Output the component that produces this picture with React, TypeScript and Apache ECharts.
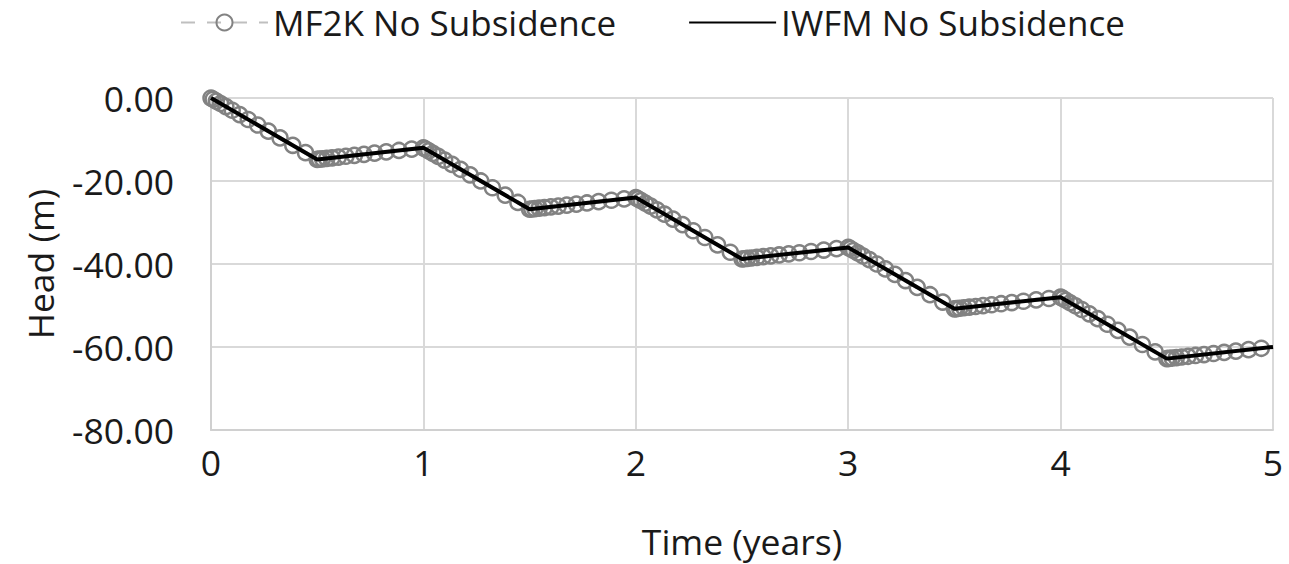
import React, { useEffect, useRef } from "react";
import * as echarts from "echarts";

const xTicks = [0, 1, 2, 3, 4, 5];
const yTicks = [0, -20, -40, -60, -80];

// IWFM No Subsidence (stress period end points)
const iwfmTime = [0, 0.5, 1, 1.5, 2, 2.5, 3, 3.5, 4, 4.5, 5];
const iwfmHead = [0, -14.8, -12, -26.8, -24, -38.8, -36, -50.8, -48, -62.8, -60];

// MF2K No Subsidence (time steps)
const mf2kTime = [
  0, 0.01, 0.025, 0.045, 0.07, 0.1, 0.135, 0.175, 0.22, 0.27, 0.325, 0.385, 0.445,
  0.5, 0.51, 0.525, 0.545, 0.57, 0.6, 0.635, 0.675, 0.72, 0.77, 0.825, 0.885, 0.945,
  1, 1.01, 1.025, 1.045, 1.07, 1.1, 1.135, 1.175, 1.22, 1.27, 1.325, 1.385, 1.445,
  1.5, 1.51, 1.525, 1.545, 1.57, 1.6, 1.635, 1.675, 1.72, 1.77, 1.825, 1.885, 1.945,
  2, 2.01, 2.025, 2.045, 2.07, 2.1, 2.135, 2.175, 2.22, 2.27, 2.325, 2.385, 2.445,
  2.5, 2.51, 2.525, 2.545, 2.57, 2.6, 2.635, 2.675, 2.72, 2.77, 2.825, 2.885, 2.945,
  3, 3.01, 3.025, 3.045, 3.07, 3.1, 3.135, 3.175, 3.22, 3.27, 3.325, 3.385, 3.445,
  3.5, 3.51, 3.525, 3.545, 3.57, 3.6, 3.635, 3.675, 3.72, 3.77, 3.825, 3.885, 3.945,
  4, 4.01, 4.025, 4.045, 4.07, 4.1, 4.135, 4.175, 4.22, 4.27, 4.325, 4.385, 4.445,
  4.5, 4.51, 4.525, 4.545, 4.57, 4.6, 4.635, 4.675, 4.72, 4.77, 4.825, 4.885, 4.945,
];
const mf2kHead = [
  0, -0.3, -0.74, -1.33, -2.07, -2.96, -4.0, -5.18, -6.51, -7.99, -9.62, -11.4, -13.17,
  -14.8, -14.74, -14.66, -14.55, -14.41, -14.24, -14.04, -13.82, -13.57, -13.29, -12.98, -12.64, -12.31,
  -12.0, -12.3, -12.74, -13.33, -14.07, -14.96, -16.0, -17.18, -18.51, -19.99, -21.62, -23.4, -25.17,
  -26.8, -26.74, -26.66, -26.55, -26.41, -26.24, -26.04, -25.82, -25.57, -25.29, -24.98, -24.64, -24.31,
  -24.0, -24.3, -24.74, -25.33, -26.07, -26.96, -28.0, -29.18, -30.51, -31.99, -33.62, -35.4, -37.17,
  -38.8, -38.74, -38.66, -38.55, -38.41, -38.24, -38.04, -37.82, -37.57, -37.29, -36.98, -36.64, -36.31,
  -36.0, -36.3, -36.74, -37.33, -38.07, -38.96, -40.0, -41.18, -42.51, -43.99, -45.62, -47.4, -49.17,
  -50.8, -50.74, -50.66, -50.55, -50.41, -50.24, -50.04, -49.82, -49.57, -49.29, -48.98, -48.64, -48.31,
  -48.0, -48.3, -48.74, -49.33, -50.07, -50.96, -52.0, -53.18, -54.51, -55.99, -57.62, -59.4, -61.17,
  -62.8, -62.74, -62.66, -62.55, -62.41, -62.24, -62.04, -61.82, -61.57, -61.29, -60.98, -60.64, -60.31,
];

const FONT = "'Open Sans', 'Noto Sans', sans-serif";
const TEXT = "#1a1a1a";
const FS = 35.5;

export default function App() {
  const ref = useRef<HTMLDivElement>(null);
  useEffect(() => {
    if (!ref.current) return;
    const chart = echarts.init(ref.current, undefined, { renderer: "svg" });
    chart.setOption({
      animation: false,
      backgroundColor: "#ffffff",
      textStyle: { fontFamily: FONT },
      legend: {
        left: 175,
        top: 0,
        itemWidth: 87,
        itemHeight: 20,
        itemGap: 72,
        textStyle: { fontFamily: FONT, fontSize: 35, color: TEXT },
        data: [
          { name: "MF2K No Subsidence" },
          { name: "IWFM No Subsidence", itemStyle: { opacity: 0 } },
        ],
      },
      grid: { left: 211, right: 16, top: 98, bottom: 132, containLabel: false },
      xAxis: {
        type: "value",
        min: xTicks[0],
        max: xTicks[xTicks.length - 1],
        interval: 1,
        name: "Time (years)",
        nameLocation: "middle",
        nameGap: 93,
        nameTextStyle: { fontFamily: FONT, fontSize: FS, color: TEXT },
        axisLine: { show: true, onZero: false, lineStyle: { color: "#d0d0d0", width: 2 } },
        axisTick: { show: false },
        axisLabel: { fontFamily: FONT, fontSize: FS, color: TEXT, margin: 14 },
        splitLine: { show: true, lineStyle: { color: "#d9d9d9", width: 2 } },
      },
      yAxis: {
        type: "value",
        min: yTicks[yTicks.length - 1],
        max: yTicks[0],
        interval: 20,
        name: "Head (m)",
        nameLocation: "middle",
        nameGap: 153,
        nameTextStyle: { fontFamily: FONT, fontSize: FS, color: TEXT },
        axisLine: { show: true, onZero: false, lineStyle: { color: "#d0d0d0", width: 2 } },
        axisTick: { show: false },
        axisLabel: {
          fontFamily: FONT,
          fontSize: FS,
          color: TEXT,
          margin: 37,
          formatter: (v: number) => v.toFixed(2),
        },
        splitLine: { show: true, lineStyle: { color: "#d9d9d9", width: 2 } },
      },
      series: [
        {
          name: "MF2K No Subsidence",
          type: "line",
          data: mf2kTime.map((t, i) => [t, mf2kHead[i]]),
          symbol: "circle",
          symbolSize: 15,
          showAllSymbol: true,
          itemStyle: { color: "rgba(255,255,255,0)", borderColor: "#828282", borderWidth: 2.5 },
          lineStyle: { color: "#bfbfbf", width: 4, type: [14, 12] },
          z: 2,
        },
        {
          name: "IWFM No Subsidence",
          type: "line",
          data: iwfmTime.map((t, i) => [t, iwfmHead[i]]),
          symbol: "none",
          itemStyle: { color: "#000000" },
          lineStyle: { color: "#000000", width: 4 },
          z: 3,
        },
      ],
    });
    return () => chart.dispose();
  }, []);
  return (
    <div
      ref={ref}
      style={{ position: "fixed", left: 0, top: 0, width: 1289, height: 564 }}
    />
  );
}
